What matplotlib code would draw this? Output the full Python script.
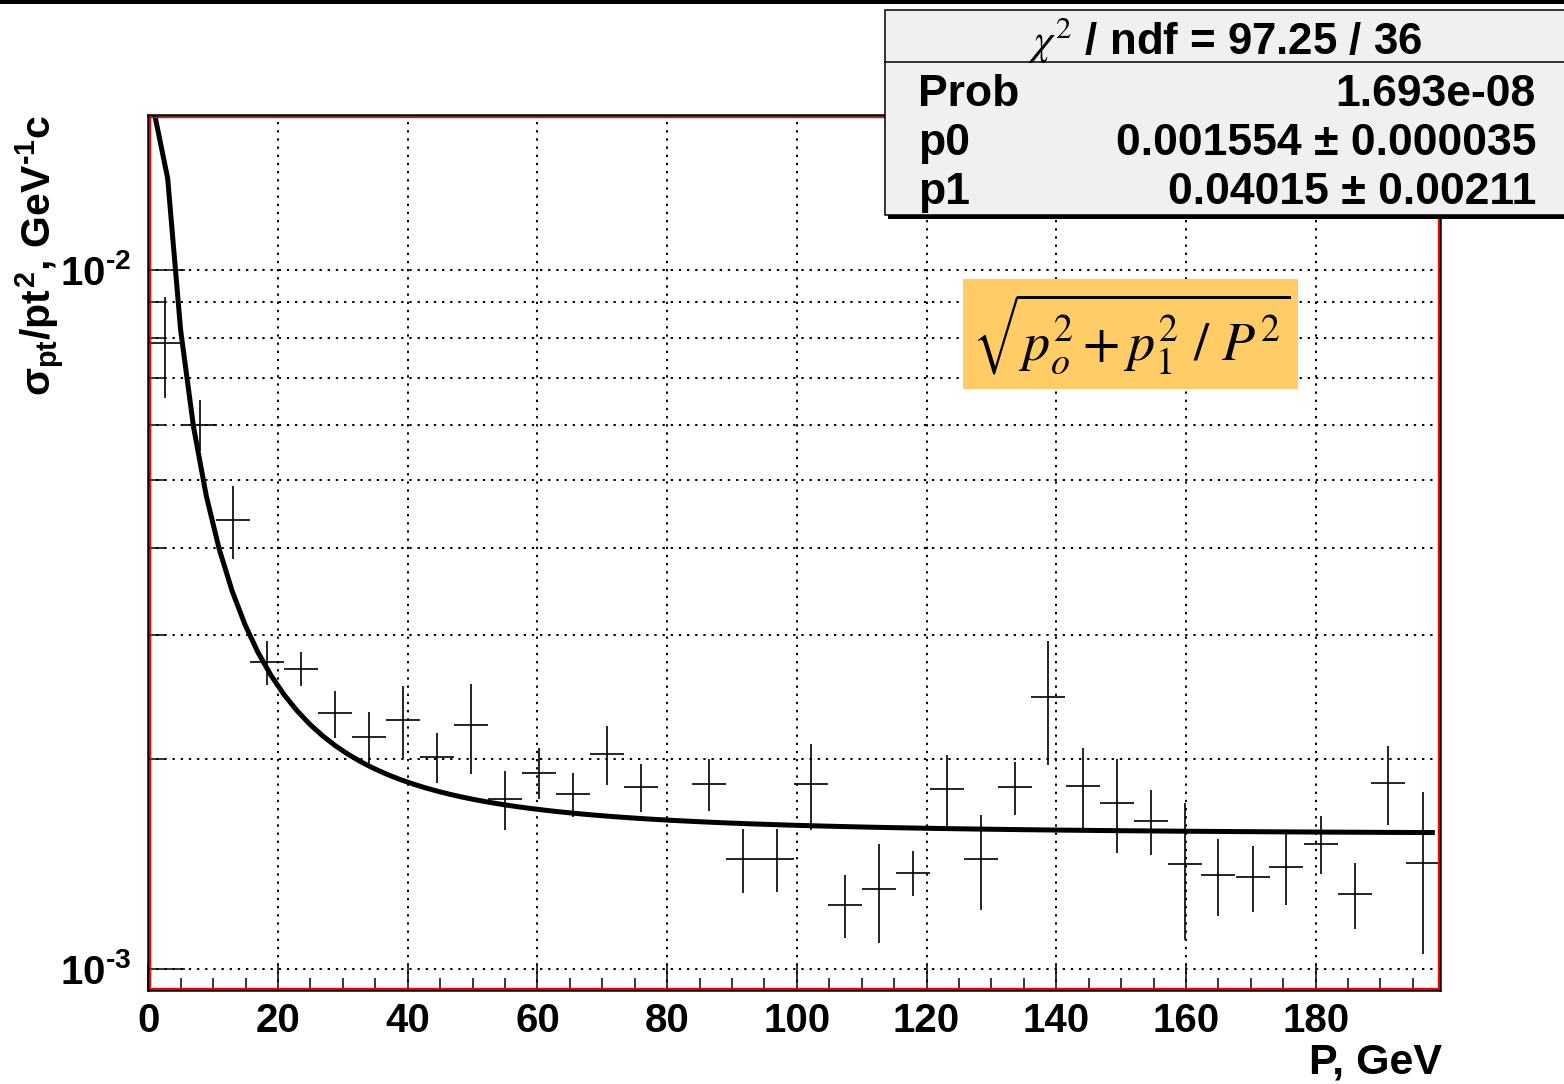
import numpy as np
import matplotlib
matplotlib.use("Agg")
import matplotlib.pyplot as plt
from matplotlib.patches import Rectangle
from matplotlib.lines import Line2D
from matplotlib.ticker import FixedLocator, FixedFormatter, MultipleLocator, NullFormatter

plt.rcParams['font.family'] = ['Liberation Sans', 'DejaVu Sans']
plt.rcParams['mathtext.fontset'] = 'custom'
plt.rcParams['mathtext.rm'] = 'Liberation Sans:bold'
plt.rcParams['mathtext.it'] = 'Liberation Sans:bold'
plt.rcParams['mathtext.bf'] = 'Liberation Sans:bold'
plt.rcParams['mathtext.sf'] = 'Liberation Sans:bold'

# momentum bins (GeV); bin at 81.2 is empty
p_center = [2.6, 7.9, 13.1, 18.3, 23.6, 28.8, 34.1, 39.3, 44.5, 49.8, 55.0, 60.3,
            65.5, 70.7, 76.0, 86.4, 91.7, 96.9, 102.2, 107.4, 112.6, 117.9, 123.1,
            128.4, 133.6, 138.8, 144.1, 149.3, 154.6, 159.8, 165.0, 170.3, 175.5,
            180.8, 186.0, 191.2, 196.5]
p_halfwidth = 2.62
sigma = [0.00786, 0.00601, 0.00439, 0.00275, 0.00269, 0.00232, 0.00215, 0.00227,
         0.00201, 0.00223, 0.00175, 0.00191, 0.00178, 0.00203, 0.00182, 0.00184,
         0.001435, 0.001437, 0.00184, 0.001235, 0.0013, 0.001373, 0.00181, 0.001437,
         0.00182, 0.00245, 0.00183, 0.00173, 0.00163, 0.001415, 0.001363, 0.001354,
         0.0014, 0.00151, 0.00128, 0.001845, 0.00142]
sigma_err = [0.0013, 0.00051, 0.000525, 0.0002, 0.00015, 0.00018, 0.00018, 0.00027,
             0.000167, 0.00033, 0.000172, 0.00016, 0.000128, 0.000196, 0.000144, 0.00016,
             0.00015, 0.00015, 0.00026, 0.000128, 0.00021, 0.000103, 0.000216, 0.000222,
             0.00016, 0.000495, 0.000238, 0.000265, 0.000174, 0.000315, 0.000172, 0.000147,
             0.000166, 0.000145, 0.00014, 0.000237, 0.00037]

# fit result
p0 = 0.001554
p1 = 0.04015
stats_rows = [("Prob", "1.693e-08"),
              ("p0", "0.001554 \u00b1 0.000035"),
              ("p1", "0.04015 \u00b1 0.00211")]
header = r'$\chi^{2}$ / ndf = 97.25 / 36'
ytick_labels = [r'$10^{\text{-}3}$', r'$10^{\text{-}2}$']

ymin, ymax = 0.000933, 0.016663
xmin, xmax = 0, 199.1

W, H = 1564, 1084
fig = plt.figure(figsize=(W / 100, H / 100), dpi=100)
ax = fig.add_axes([148.3 / W, 1 - 990 / H, (1439.5 - 148.3) / W, 875 / H])

def fx(x):
    return x / W

def fy(y):
    return 1 - y / H

ax.set_yscale('log')
ax.set_xlim(xmin, xmax)
ax.set_ylim(ymin, ymax)

ax.errorbar(p_center, sigma, xerr=p_halfwidth, yerr=sigma_err, fmt='none',
            ecolor='black', elinewidth=1.2, capsize=0, zorder=3)

pp = np.linspace(1, 198, 100)
ff = np.sqrt(p0 ** 2 + p1 ** 2 / pp ** 2)
ax.plot(pp, np.minimum(ff, ymax), color='black', lw=3.6, zorder=4)

ax.yaxis.set_major_locator(FixedLocator([1e-3, 1e-2]))
ax.yaxis.set_major_formatter(FixedFormatter(ytick_labels))
ax.yaxis.set_minor_locator(FixedLocator([k * 1e-3 for k in range(2, 10)]))
ax.yaxis.set_minor_formatter(NullFormatter())
ax.xaxis.set_major_locator(MultipleLocator(20))
ax.xaxis.set_minor_locator(MultipleLocator(5))

ax.tick_params(axis='both', which='both', direction='in', top=False, right=False,
               color='black', width=1.1)
ax.tick_params(axis='y', which='major', length=26.6, pad=12, labelsize=29)
ax.tick_params(axis='y', which='minor', length=12)
ax.tick_params(axis='x', which='major', length=18, pad=9, labelsize=29)
ax.tick_params(axis='x', which='minor', length=8.6)
for lab in ax.get_xticklabels() + ax.get_yticklabels():
    lab.set_fontweight('bold')

gstyle = dict(color='black', lw=1.4, linestyle=(0, (1.2, 3)))
ax.grid(True, which='major', axis='x', **gstyle)
ax.grid(True, which='both', axis='y', **gstyle)

for s in ax.spines.values():
    s.set_linewidth(1.8)
    s.set_color('black')
dx, dy = 2 / 1291.2, 2 / 875
ax.add_patch(Rectangle((dx, dy), 1 - 2 * dx, 1 - 2 * dy, transform=ax.transAxes,
                       fill=False, ec='red', lw=1.0, zorder=5, clip_on=False))

fig.text(fx(1442), fy(1062), 'P, GeV', ha='right', va='center', fontsize=31,
         fontweight='bold')
fig.text(fx(40), fy(115), r'$\sigma_{pt}/pt^{2}$, GeV$^{\text{-}1}$c', rotation=90,
         ha='center', va='top', fontsize=29.5, fontweight='bold')

# top border of canvas
fig.add_artist(Rectangle((0, fy(4)), 1, 4 / H, transform=fig.transFigure,
                         fc='black', ec='none'))

# stats box
fig.add_artist(Rectangle((fx(888), fy(219)), (1580 - 888) / W, (219 - 13) / H,
                         transform=fig.transFigure, fc='black', ec='none'))
fig.add_artist(Rectangle((fx(885), fy(215)), (1580 - 885) / W, (215 - 10) / H,
                         transform=fig.transFigure, fc='#f0f0f0', ec='black', lw=1.1))
fig.add_artist(Line2D([fx(885), 1], [fy(62), fy(62)], transform=fig.transFigure,
                      color='black', lw=1.1))
fig.text(fx(1225), fy(54), header, ha='center', va='baseline', fontsize=31.5,
         fontweight='bold', math_fontfamily='stix')
for (name, val), yb in zip(stats_rows, [106, 155, 204]):
    fig.text(fx(918), fy(yb), name, ha='left', va='baseline', fontsize=32,
             fontweight='bold')
    fig.text(fx(1536), fy(yb), val, ha='right', va='baseline', fontsize=32,
             fontweight='bold')

# formula box
fig.add_artist(Rectangle((fx(963), fy(389)), (1298 - 963) / W, (389 - 279) / H,
                         transform=fig.transFigure, fc='#ffcc66', ec='none'))
fig.text(fx(1131), fy(334), r'$\sqrt{p_o^{2} + p_1^{2}\ /\ P^{2}}$', ha='center',
         va='center', fontsize=39, math_fontfamily='stix')

fig.savefig('out.png', dpi=100, facecolor='white')
